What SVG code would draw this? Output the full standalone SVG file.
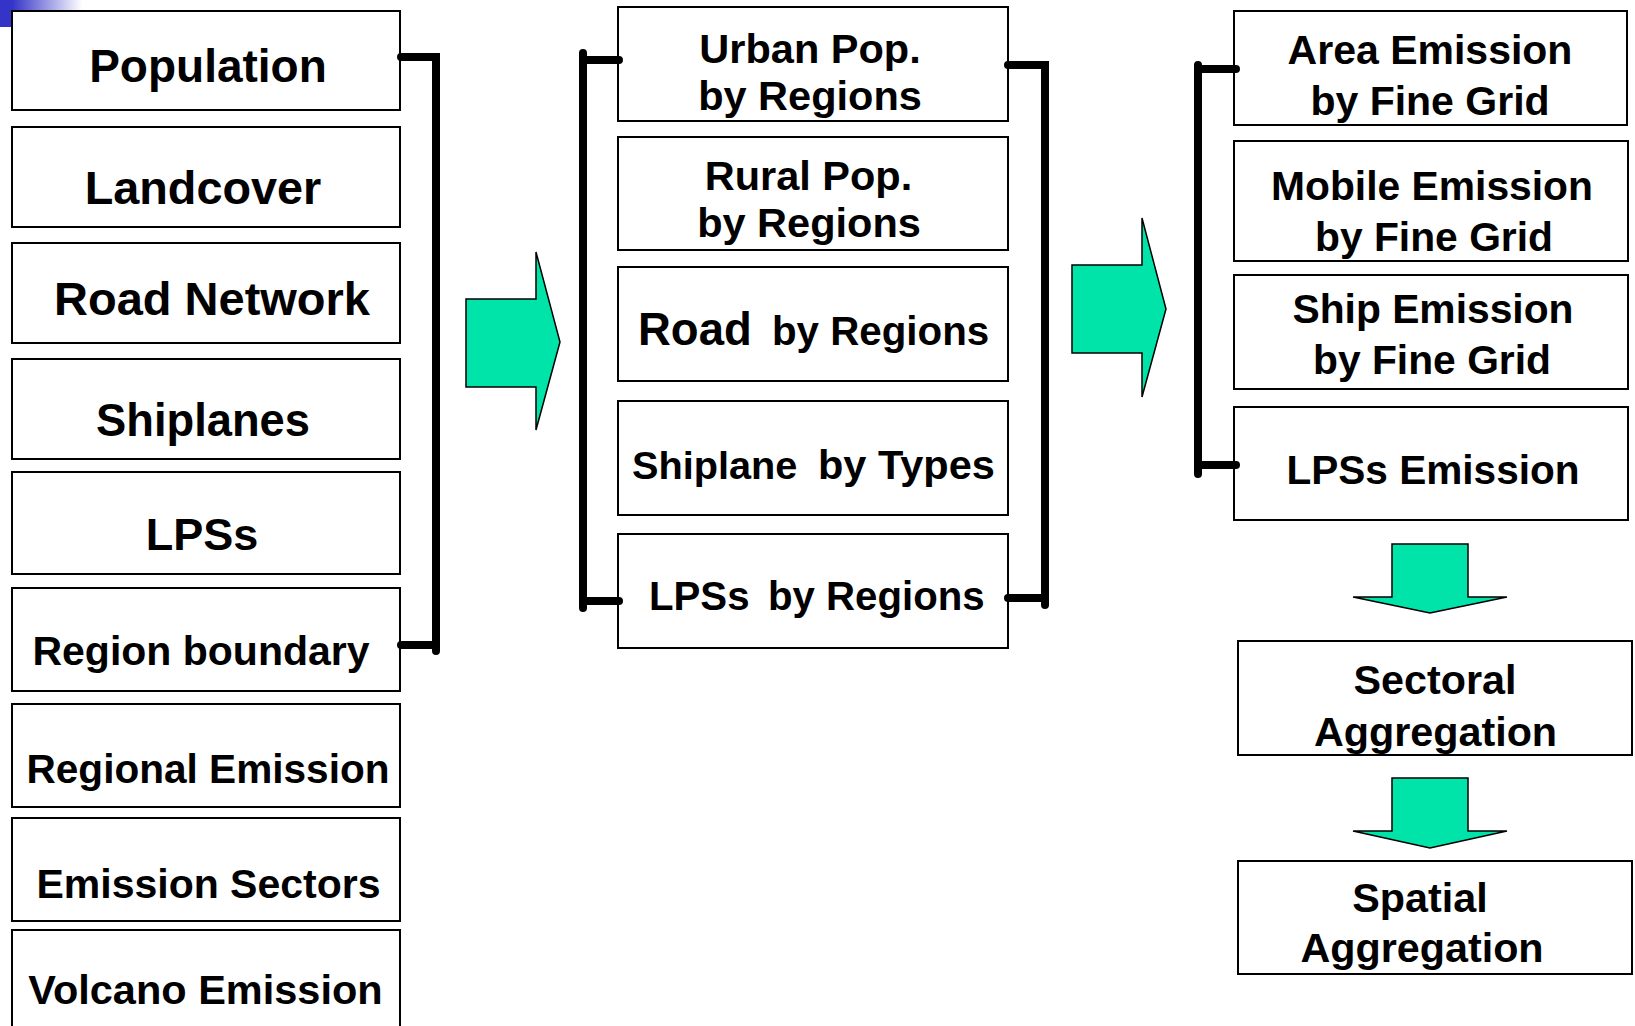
<svg xmlns="http://www.w3.org/2000/svg" width="1635" height="1026" viewBox="0 0 1635 1026">
<style>
  .box { fill: #ffffff; stroke: #000000; stroke-width: 2; }
  .t { font-family: "Liberation Sans", Arial, sans-serif; font-weight: bold; fill: #000000; }
  .m { text-anchor: middle; }
  .br { fill: none; stroke: #000000; stroke-width: 8; stroke-linecap: round; stroke-linejoin: miter; }
  .arrow { fill: #00E3A9; stroke: #000000; stroke-width: 1.5; stroke-linejoin: miter; }
</style>
<defs>
  <linearGradient id="fade" x1="0" y1="0" x2="1" y2="0">
    <stop offset="0" stop-color="#3434C8"/>
    <stop offset="1" stop-color="#ffffff"/>
  </linearGradient>
</defs>
<rect width="1635" height="1026" fill="#ffffff"/>
<g id="corner">
  <rect x="12" y="0" width="70" height="25" fill="url(#fade)"/>
  <rect x="0" y="0" width="13" height="27" fill="#3434C8"/>
</g>

<g id="population"><rect class="box" x="12" y="11" width="388" height="99"/><text class="t m" x="208" y="82" font-size="46">Population</text></g>
<g id="landcover"><rect class="box" x="12" y="127" width="388" height="100"/><text class="t m" x="203" y="204" font-size="46.8">Landcover</text></g>
<g id="road-network"><rect class="box" x="12" y="243" width="388" height="100"/><text class="t m" x="212" y="315" font-size="47">Road Network</text></g>
<g id="shiplanes"><rect class="box" x="12" y="359" width="388" height="100"/><text class="t m" x="203" y="436" font-size="45.3">Shiplanes</text></g>
<g id="lpss"><rect class="box" x="12" y="472" width="388" height="102"/><text class="t m" x="202" y="550" font-size="45">LPSs</text></g>
<g id="region-boundary"><rect class="box" x="12" y="588" width="388" height="103"/><text class="t m" x="201" y="665" font-size="41">Region boundary</text></g>
<g id="regional-emission"><rect class="box" x="12" y="704" width="388" height="103"/><text class="t m" x="208" y="783" font-size="40.6">Regional Emission</text></g>
<g id="emission-sectors"><rect class="box" x="12" y="818" width="388" height="103"/><text class="t m" x="208.5" y="898" font-size="41">Emission Sectors</text></g>
<g id="volcano-emission"><rect class="box" x="12" y="930" width="388" height="110"/><text class="t m" x="205.5" y="1004" font-size="41.5">Volcano Emission</text></g>

<g id="urban-pop"><rect class="box" x="618" y="7" width="390" height="114"/><text class="t m" font-size="41.5"><tspan x="810" y="63">Urban Pop.</tspan><tspan x="810" y="110">by Regions</tspan></text></g>
<g id="rural-pop"><rect class="box" x="618" y="137" width="390" height="113"/><text class="t m" font-size="41.5"><tspan x="808.5" y="190">Rural Pop.</tspan><tspan x="809" y="237">by Regions</tspan></text></g>
<g id="road-by-regions"><rect class="box" x="618" y="267" width="390" height="114"/><text class="t" y="345"><tspan x="638" font-size="45.5">Road </tspan><tspan x="772" font-size="40.3">by Regions</tspan></text></g>
<g id="shiplane-by-types"><rect class="box" x="618" y="401" width="390" height="114"/><text class="t" y="479"><tspan x="632" font-size="39.7">Shiplane </tspan><tspan x="818" font-size="41.5">by Types</tspan></text></g>
<g id="lpss-by-regions"><rect class="box" x="618" y="534" width="390" height="114"/><text class="t" y="610" font-size="40.2"><tspan x="649">LPSs </tspan><tspan x="768">by Regions</tspan></text></g>

<g id="area-emission"><rect class="box" x="1234" y="11" width="393" height="114"/><text class="t m" font-size="41"><tspan x="1430" y="64">Area Emission</tspan><tspan x="1430" y="115">by Fine Grid</tspan></text></g>
<g id="mobile-emission"><rect class="box" x="1234" y="141" width="394" height="120"/><text class="t m" font-size="40.8"><tspan x="1432" y="200">Mobile Emission</tspan><tspan x="1434" y="251">by Fine Grid</tspan></text></g>
<g id="ship-emission"><rect class="box" x="1234" y="275" width="394" height="114"/><text class="t m" font-size="40.8"><tspan x="1433" y="323">Ship Emission</tspan><tspan x="1432" y="374">by Fine Grid</tspan></text></g>
<g id="lpss-emission"><rect class="box" x="1234" y="407" width="394" height="113"/><text class="t m" x="1433" y="483.5" font-size="40.6">LPSs Emission</text></g>
<g id="sectoral-aggregation"><rect class="box" x="1238" y="641" width="394" height="114"/><text class="t m" font-size="41.3"><tspan x="1435" y="694">Sectoral</tspan><tspan x="1435.5" y="746">Aggregation</tspan></text></g>
<g id="spatial-aggregation"><rect class="box" x="1238" y="861" width="394" height="113"/><text class="t m" font-size="41.3"><tspan x="1420" y="912">Spatial</tspan><tspan x="1422" y="962">Aggregation</tspan></text></g>

<g id="connectors">
  <path class="br" d="M401,57 H436 V651"/>
  <path class="br" d="M401,645 H436"/>
  <path class="br" d="M619,60 H583 V53 M583,60 V608"/>
  <path class="br" d="M619,601 H583"/>
  <path class="br" d="M1008,65 H1045 V605"/>
  <path class="br" d="M1008,598 H1045"/>
  <path class="br" d="M1236,69 H1198 V65 M1198,69 V474"/>
  <path class="br" d="M1236,465 H1198"/>
  <polygon class="arrow" points="466,299 536,299 536,252 560,342 536,430 536,387 466,387"/>
  <polygon class="arrow" points="1072,265 1142,265 1142,218 1166,309 1142,397 1142,353 1072,353"/>
  <polygon class="arrow" points="1392,544 1468,544 1468,597 1507,597 1430,613 1353,597 1392,597"/>
  <polygon class="arrow" points="1392,778 1468,778 1468,831 1507,831 1430,848 1353,831 1392,831"/>
</g>
</svg>
